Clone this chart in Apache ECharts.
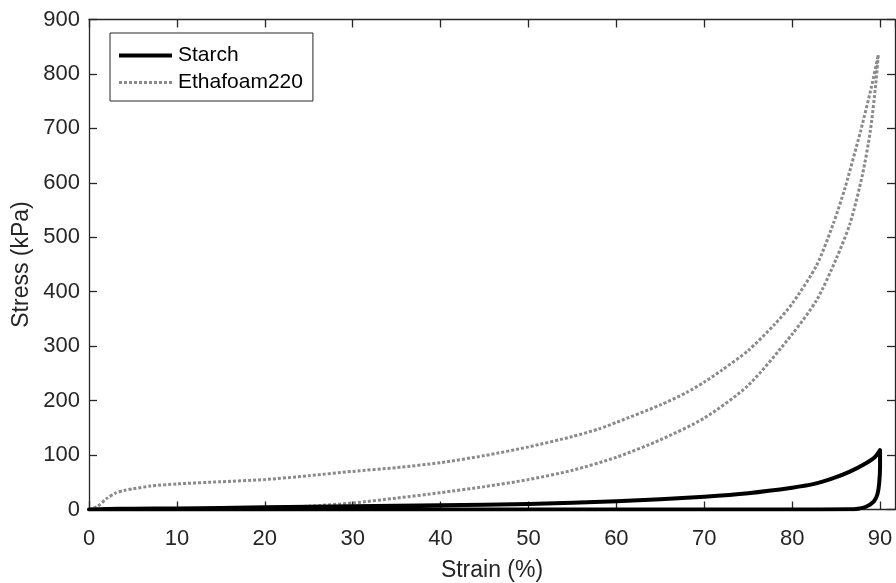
<!DOCTYPE html>
<html>
<head>
<meta charset="utf-8">
<script src="https://cdn.jsdelivr.net/npm/echarts@6/dist/echarts.min.js"></script>
<style>
  html, body { margin: 0; padding: 0; background: #ffffff; }
  #chart { width: 896px; height: 583px; }
</style>
</head>
<body>
<div id="chart"></div>
<script>
// ---- Data ----
var xTickLabels = ['0', '10', '20', '30', '40', '50', '60', '70', '80', '90'];
var yTickLabels = ['0', '100', '200', '300', '400', '500', '600', '700', '800', '900'];

// Starch: loading branch then unloading branch (closed loop)
var starchStrain = [0, 2, 5, 10, 20, 30, 40, 50, 60, 65, 70, 75, 80, 82.5, 84.6, 86.5, 88.4, 89.4, 90,
                    90, 89.9, 89.7, 89.3, 88.4, 87.5, 86.5, 80, 60, 40, 20, 0];
var starchStress = [0, 1, 1.5, 2, 4, 6, 8, 10, 15, 19, 23.5, 30, 40, 47, 57, 69, 85, 96, 109,
                    80, 48, 28, 15, 5, 1.5, 0.3, 0, 0, 0, 0, 0];

// Ethafoam220: loading branch
var foamUpStrain = [0, 1, 2, 3, 4, 5, 7, 10, 15, 20, 25, 30, 35, 40, 45, 50, 55, 58, 60, 65, 68, 70, 72, 75, 78, 80, 82.8, 84.7, 86, 87.8, 89, 89.8];
var foamUpStress = [0, 6, 20, 30, 35, 38, 43, 47, 51, 55, 62, 70, 77, 86, 99, 115, 134, 148, 160, 192, 215, 234, 256, 292, 340, 378, 449, 526, 590, 696, 775, 835];
// Ethafoam220: unloading branch
var foamDownStrain = [89.8, 89.5, 88.9, 88, 86.6, 85, 82.8, 80, 75, 70, 65, 60, 55, 50, 45, 40, 35, 30, 25, 20, 15, 10, 5, 0];
var foamDownStress = [835, 780, 696, 615, 526, 460, 385, 322, 228, 168, 128, 96, 72, 55, 42, 31, 21, 12, 6, 3, 2, 1, 0.5, 0];

function pairs(xs, ys) {
  var out = [];
  for (var i = 0; i < xs.length; i++) out.push([xs[i], ys[i]]);
  return out;
}
var starchData = pairs(starchStrain, starchStress);
var foamData = pairs(foamUpStrain.concat(foamDownStrain.slice(1)), foamUpStress.concat(foamDownStress.slice(1)));

var AX = '#262626';
var FONT = 'Liberation Sans, Arial, sans-serif';
var FOAM = '#8a8a8a';

var chart = echarts.init(document.getElementById('chart'), null, { renderer: 'canvas' });

function labelFmt(list) {
  return function (v) {
    var s = String(Math.round(v * 1000) / 1000);
    return list.indexOf(s) >= 0 ? s : '';
  };
}

chart.setOption({
  animation: false,
  backgroundColor: '#ffffff',
  grid: { left: 89, right: 1, top: 19.5, bottom: 73.5, containLabel: false, outerBoundsMode: 'none' },
  legend: {
    orient: 'vertical',
    left: 110,
    top: 33,
    padding: [12, 10, 8, 7],
    itemGap: 6,
    itemWidth: 53,
    itemHeight: 14,
    borderColor: AX,
    borderWidth: 1,
    backgroundColor: '#ffffff',
    textStyle: { fontSize: 21, color: '#000000', fontFamily: FONT, padding: [0, 0, 0, 1] },
    data: [
      { name: 'Starch', itemStyle: { opacity: 0 }, lineStyle: { color: '#000000', width: 4, type: 'solid', cap: 'butt' } },
      { name: 'Ethafoam220', itemStyle: { opacity: 0 }, lineStyle: { color: FOAM, width: 3, type: [3, 2], cap: 'butt' } }
    ]
  },
  xAxis: [{
    type: 'value', position: 'bottom', min: 0, max: 91.7, interval: 10,
    name: 'Strain (%)', nameLocation: 'middle', nameGap: 50,
    nameTextStyle: { fontSize: 23, color: AX, fontFamily: FONT },
    axisLine: { show: true, onZero: false, lineStyle: { color: AX, width: 1.3 } },
    axisTick: { show: true, inside: true, length: 8, lineStyle: { color: AX, width: 1.3 } },
    axisLabel: { fontSize: 22, color: AX, fontFamily: FONT, margin: 18, showMaxLabel: false, formatter: labelFmt(xTickLabels) },
    splitLine: { show: false }
  }, {
    type: 'value', position: 'top', min: 0, max: 91.7, interval: 10,
    axisLine: { show: true, onZero: false, lineStyle: { color: AX, width: 1.3 } },
    axisTick: { show: true, inside: true, length: 8, lineStyle: { color: AX, width: 1.3 } },
    axisLabel: { show: false },
    splitLine: { show: false }
  }],
  yAxis: [{
    type: 'value', position: 'left', min: 0, max: 900, interval: 100,
    name: 'Stress (kPa)', nameLocation: 'middle', nameGap: 56, nameMoveOverlap: false,
    nameTextStyle: { fontSize: 23, color: AX, fontFamily: FONT },
    axisLine: { show: true, onZero: false, lineStyle: { color: AX, width: 1.3 } },
    axisTick: { show: true, inside: true, length: 8, lineStyle: { color: AX, width: 1.3 } },
    axisLabel: { fontSize: 22, color: AX, fontFamily: FONT, margin: 9, formatter: labelFmt(yTickLabels) },
    splitLine: { show: false }
  }, {
    type: 'value', position: 'right', min: 0, max: 900, interval: 100,
    axisLine: { show: true, onZero: false, lineStyle: { color: AX, width: 1.3 } },
    axisTick: { show: true, inside: true, length: 8, lineStyle: { color: AX, width: 1.3 } },
    axisLabel: { show: false },
    splitLine: { show: false }
  }],
  series: [{
    name: 'Starch', type: 'line', xAxisIndex: 0, yAxisIndex: 0,
    data: starchData, symbol: 'none', smooth: 0.25, z: 3,
    lineStyle: { color: '#000000', width: 4, join: 'round', cap: 'round' },
    itemStyle: { color: '#000000' }
  }, {
    name: 'Ethafoam220', type: 'line', xAxisIndex: 0, yAxisIndex: 0,
    data: foamData, symbol: 'none', smooth: 0.25, z: 2,
    lineStyle: { color: FOAM, width: 3, type: [3, 2], cap: 'butt' },
    itemStyle: { color: FOAM }
  }]
});
</script>
</body>
</html>
